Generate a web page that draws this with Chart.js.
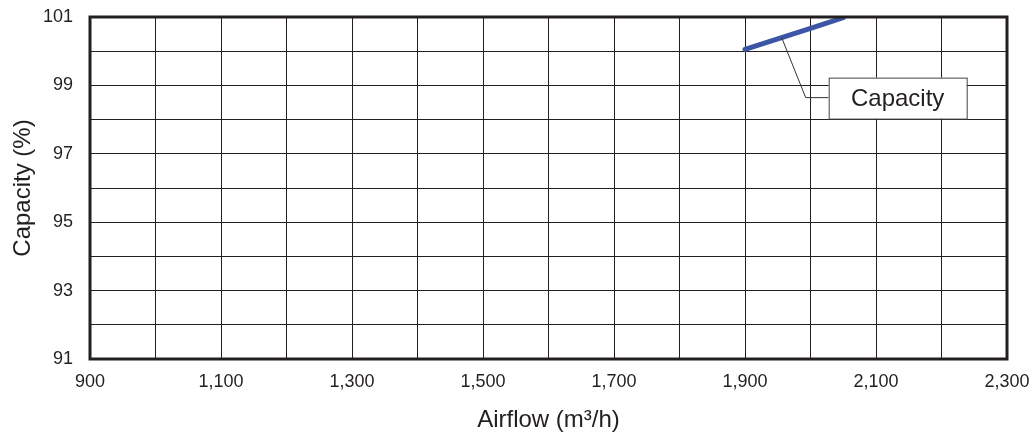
<!DOCTYPE html>
<html>
<head>
<meta charset="utf-8">
<script src="https://cdn.jsdelivr.net/npm/chart.js@4"></script>
<style>
  html, body { margin: 0; padding: 0; background: #fff; }
  #wrap { width: 1032px; height: 437px; }
</style>
</head>
<body>
<div id="wrap"><canvas id="myChart" width="1032" height="437"></canvas></div>
<script>
// data
const airflow = [1900, 1950, 2000, 2050];
const capacity = [100.05, 100.36, 100.67, 100.98];
const seriesName = "Capacity";
const xMin = 900, xMax = 2300, xStep = 100;
const yMin = 91, yMax = 101, yStep = 1;
const xLabelled = [900, 1100, 1300, 1500, 1700, 1900, 2100, 2300];
const yLabelled = [91, 93, 95, 97, 99, 101];
const calloutAt = 1956; // where the leader touches the line

const font = "'Liberation Sans', Arial, sans-serif";

// thick frame round the plot + the callout box
const framePlugin = {
    id: "frame",
    afterDraw(chart) {
        const { ctx, chartArea: a, scales } = chart;
        ctx.save();
        ctx.strokeStyle = "#231f20";
        ctx.lineWidth = 3;
        ctx.strokeRect(a.left, a.top, a.right - a.left, a.bottom - a.top);

        // callout
        const ax = scales.x.getPixelForValue(calloutAt);
        let ay = 0;
        for (let i = 0; i < airflow.length - 1; i++) {
            if (calloutAt >= airflow[i] && calloutAt <= airflow[i + 1]) {
                const t = (calloutAt - airflow[i]) / (airflow[i + 1] - airflow[i]);
                ay = capacity[i] + t * (capacity[i + 1] - capacity[i]);
            }
        }
        const ayPx = scales.y.getPixelForValue(ay);
        const bx = ax + 47, by = ayPx + 40, bw = 138, bh = 41;
        ctx.strokeStyle = "#333";
        ctx.lineWidth = 1;
        ctx.beginPath();
        ctx.moveTo(ax, ayPx);
        ctx.lineTo(ax + 24, ayPx + 60);
        ctx.lineTo(bx, ayPx + 60);
        ctx.stroke();
        ctx.fillStyle = "#fff";
        ctx.fillRect(bx, by, bw, bh);
        ctx.strokeStyle = "#444";
        ctx.strokeRect(bx + 0.5, by + 0.5, bw, bh);
        ctx.fillStyle = "#231f20";
        ctx.font = "24px " + font;
        ctx.textAlign = "center";
        ctx.textBaseline = "middle";
        ctx.fillText(seriesName, bx + bw / 2, by + bh / 2 + 1);
        ctx.restore();
    }
};

new Chart(document.getElementById("myChart"), {
    type: "line",
    data: {
        datasets: [{
            label: seriesName,
            data: airflow.map((x, i) => ({ x: x, y: capacity[i] })),
            borderColor: "#3c55a5",
            borderWidth: 5,
            borderCapStyle: "round",
            pointRadius: 0,
            tension: 0,
            fill: false,
        }]
    },
    options: {
        responsive: false,
        animation: false,
        layout: { padding: { left: 0, right: 25, top: 17, bottom: 0 } },
        plugins: {
            legend: { display: false },
            tooltip: { enabled: false },
        },
        scales: {
            x: {
                type: "linear",
                min: xMin, max: xMax,
                // invisible ticks give the label gap without padding the plot
                grid: { color: "#231f20", lineWidth: 1, drawTicks: true, tickLength: 12, tickColor: "rgba(0,0,0,0)" },
                border: { display: false },
                ticks: {
                    stepSize: xStep,
                    autoSkip: false,
                    maxRotation: 0,
                    padding: 0,
                    color: "#231f20",
                    font: { family: font, size: 18 },
                    callback: (v) => xLabelled.includes(v) ? v.toLocaleString("en-US") : "",
                },
                title: {
                    display: true,
                    text: "Airflow (m³/h)",
                    color: "#231f20",
                    font: { family: font, size: 24 },
                    padding: { top: 0, bottom: 2 },
                },
                afterFit: (s) => { s.height = 78; },
            },
            y: {
                min: yMin, max: yMax,
                grid: { color: "#231f20", lineWidth: 1, drawTicks: true, tickLength: 17, tickColor: "rgba(0,0,0,0)" },
                border: { display: false },
                ticks: {
                    stepSize: yStep,
                    autoSkip: false,
                    padding: 0,
                    color: "#231f20",
                    font: { family: font, size: 18 },
                    callback: (v) => yLabelled.includes(v) ? String(v) : "",
                },
                title: {
                    display: true,
                    text: "Capacity (%)",
                    color: "#231f20",
                    font: { family: font, size: 24 },
                    padding: { top: 9 },
                },
                afterFit: (s) => { s.width = 90; },
            }
        }
    },
    plugins: [framePlugin]
});
</script>
</body>
</html>
